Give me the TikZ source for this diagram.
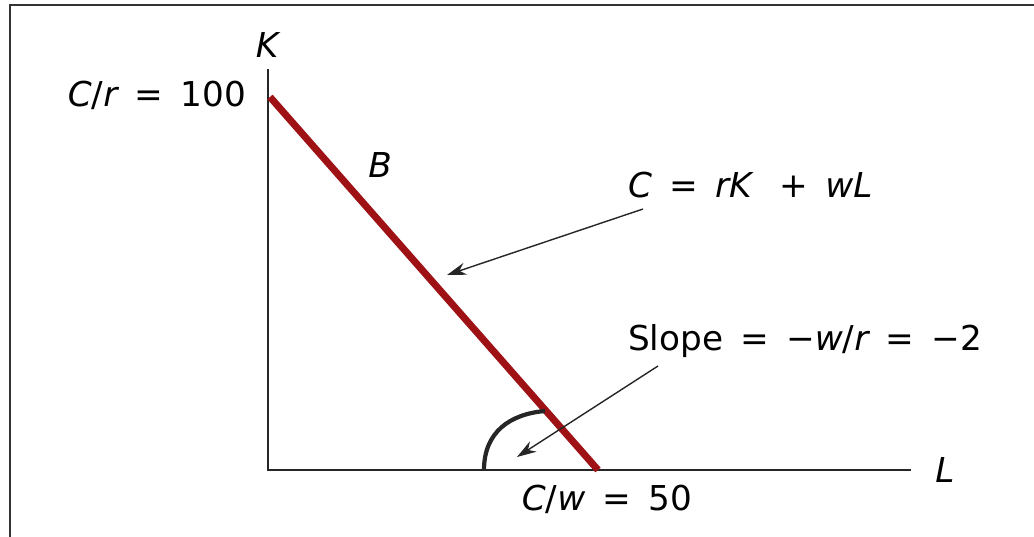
\documentclass[tikz,border=0pt]{standalone}
\usepackage{fontspec}
\setmainfont{DejaVu Sans}
\usepackage{xcolor}
\usetikzlibrary{arrows.meta, positioning}
\definecolor{budgetred}{RGB}{158,17,20}
\newcommand{\eqs}{\enspace=\enspace}

\begin{document}
\begin{tikzpicture}[
    x=0.02cm, y=-0.02cm,
    axis/.style={line width=1.7pt, black!85},
    arrow/.style={-{Stealth[length=11pt, width=7pt]}, line width=0.8pt, black!85},
    lbl/.style={font=\fontsize{19.5}{22}\selectfont, inner sep=1pt},
]
\useasboundingbox (0,0) rectangle (1034,537);

% Frame
\draw[line width=1.6pt, black!80] (1034,5) -- (10,5) -- (10,537);

% Axes
\coordinate (O) at (268,470);
\coordinate (ytop) at (268,69);
\coordinate (xend) at (911,470);
\draw[axis] (ytop) -- (O) -- (xend);
\node[lbl] (K) at (267,45) {\itshape K};
\node[lbl] (L) at (945,470) {\itshape L};

% Budget line
\coordinate (A) at (270,97);
\coordinate (Z) at (598,470);
\draw[budgetred, line width=4pt] (A) -- (Z);
\node[lbl, anchor=east] (cr) at (248,95) {{\itshape C}/{\itshape r}\eqs 100};
\node[lbl] (cw) at (607,499) {{\itshape C}/{\itshape w}\eqs 50};
\node[lbl] (B) at (380,165) {\itshape B};

% Angle
\coordinate (a1) at (484,470);
\coordinate (a2) at (545,411);
\draw[line width=2.4pt, black!85] (a1) .. controls (484,432) and (510,414) .. (a2);

% Annotations
\node[lbl, anchor=west] (eq) at (626,185) {{\itshape C}\eqs{\itshape rK} \enspace+\enspace{\itshape wL}};
\node[lbl, anchor=west] (slope) at (626,341) {Slope\eqs−{\itshape w}/{\itshape r}\eqs−2};
\coordinate (p1) at (447,275);
\coordinate (p2) at (517,457);
\draw[arrow] (643,209) -- (p1);
\draw[arrow] (658,366) -- (p2);

\end{tikzpicture}
\end{document}
